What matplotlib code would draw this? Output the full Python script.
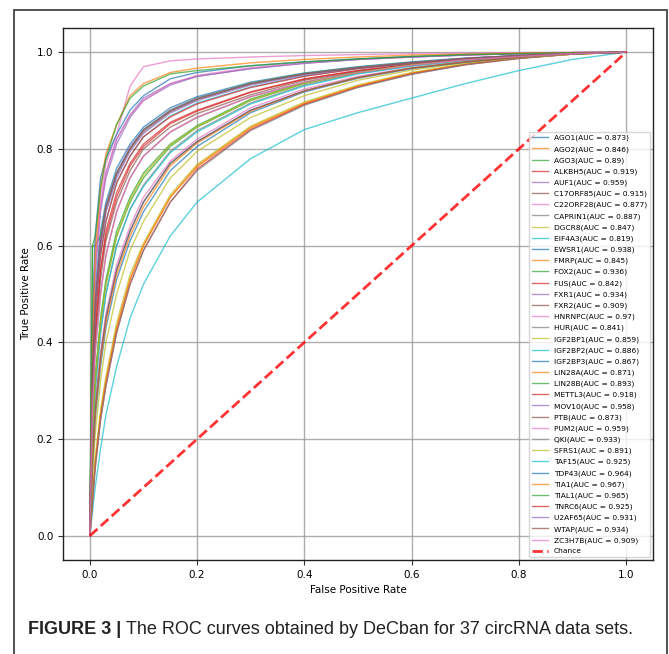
import numpy as np
import matplotlib
matplotlib.use('Agg')
import matplotlib.pyplot as plt
from matplotlib.patches import Rectangle

# false positive rate grid used for reading the curves off the figure
fpr = [0, 0.005, 0.01, 0.02, 0.03, 0.05, 0.075, 0.1, 0.15, 0.2, 0.3, 0.4, 0.5, 0.6, 0.7, 0.8, 0.9, 1.0]

names = ['AGO1', 'AGO2', 'AGO3', 'ALKBH5', 'AUF1', 'C17ORF85', 'C22ORF28', 'CAPRIN1', 'DGCR8',
         'EIF4A3', 'EWSR1', 'FMRP', 'FOX2', 'FUS', 'FXR1', 'FXR2', 'HNRNPC', 'HUR', 'IGF2BP1',
         'IGF2BP2', 'IGF2BP3', 'LIN28A', 'LIN28B', 'METTL3', 'MOV10', 'PTB', 'PUM2', 'QKI',
         'SFRS1', 'TAF15', 'TDP43', 'TIA1', 'TIAL1', 'TNRC6', 'U2AF65', 'WTAP', 'ZC3H7B']
aucs = [0.873, 0.846, 0.89, 0.919, 0.959, 0.915, 0.877, 0.887, 0.847,
        0.819, 0.938, 0.845, 0.936, 0.842, 0.934, 0.909, 0.97, 0.841, 0.859,
        0.886, 0.867, 0.871, 0.893, 0.918, 0.958, 0.873, 0.959, 0.933,
        0.891, 0.925, 0.964, 0.967, 0.965, 0.925, 0.931, 0.934, 0.909]

# true positive rate read at each fpr point
tpr = {
    'AGO1':     [0, 0.16, 0.26, 0.37, 0.45, 0.55, 0.63, 0.69, 0.77, 0.815, 0.88, 0.92, 0.948, 0.967, 0.98, 0.99, 0.997, 1],
    'AGO2':     [0, 0.08, 0.15, 0.25, 0.32, 0.43, 0.53, 0.6, 0.7, 0.765, 0.845, 0.895, 0.93, 0.957, 0.975, 0.988, 0.996, 1],
    'AGO3':     [0, 0.22, 0.32, 0.44, 0.52, 0.62, 0.69, 0.74, 0.805, 0.845, 0.9, 0.935, 0.958, 0.974, 0.985, 0.992, 0.997, 1],
    'ALKBH5':   [0, 0.3, 0.42, 0.55, 0.63, 0.71, 0.77, 0.81, 0.855, 0.88, 0.918, 0.945, 0.962, 0.975, 0.985, 0.992, 0.997, 1],
    'AUF1':     [0, 0.42, 0.56, 0.68, 0.75, 0.82, 0.87, 0.905, 0.935, 0.95, 0.966, 0.977, 0.985, 0.99, 0.994, 0.997, 0.999, 1],
    'C17ORF85': [0, 0.28, 0.4, 0.53, 0.61, 0.69, 0.755, 0.8, 0.845, 0.873, 0.912, 0.942, 0.96, 0.974, 0.984, 0.991, 0.997, 1],
    'C22ORF28': [0, 0.17, 0.27, 0.38, 0.46, 0.56, 0.64, 0.7, 0.775, 0.82, 0.885, 0.924, 0.95, 0.968, 0.98, 0.99, 0.997, 1],
    'CAPRIN1':  [0, 0.2, 0.3, 0.42, 0.5, 0.6, 0.675, 0.725, 0.795, 0.838, 0.895, 0.932, 0.956, 0.972, 0.984, 0.992, 0.997, 1],
    'DGCR8':    [0, 0.09, 0.16, 0.26, 0.33, 0.44, 0.54, 0.605, 0.705, 0.768, 0.847, 0.897, 0.932, 0.958, 0.976, 0.988, 0.996, 1],
    'EIF4A3':   [0, 0.05, 0.1, 0.18, 0.25, 0.35, 0.45, 0.52, 0.62, 0.69, 0.78, 0.84, 0.875, 0.905, 0.935, 0.962, 0.985, 1],
    'EWSR1':    [0, 0.36, 0.51, 0.63, 0.69, 0.76, 0.81, 0.845, 0.885, 0.908, 0.938, 0.957, 0.97, 0.98, 0.988, 0.993, 0.997, 1],
    'FMRP':     [0, 0.08, 0.15, 0.25, 0.32, 0.43, 0.53, 0.6, 0.7, 0.763, 0.843, 0.893, 0.93, 0.956, 0.975, 0.988, 0.996, 1],
    'FOX2':     [0, 0.6, 0.6, 0.62, 0.68, 0.75, 0.8, 0.84, 0.88, 0.905, 0.936, 0.956, 0.969, 0.979, 0.987, 0.993, 0.997, 1],
    'FUS':      [0, 0.07, 0.14, 0.24, 0.31, 0.42, 0.52, 0.59, 0.69, 0.758, 0.84, 0.892, 0.928, 0.955, 0.974, 0.987, 0.996, 1],
    'FXR1':     [0, 0.34, 0.49, 0.61, 0.68, 0.75, 0.805, 0.84, 0.88, 0.905, 0.935, 0.955, 0.968, 0.978, 0.987, 0.993, 0.997, 1],
    'FXR2':     [0, 0.27, 0.38, 0.5, 0.58, 0.67, 0.74, 0.785, 0.835, 0.865, 0.908, 0.938, 0.958, 0.973, 0.984, 0.991, 0.997, 1],
    'HNRNPC':   [0, 0.45, 0.6, 0.7, 0.77, 0.83, 0.93, 0.97, 0.982, 0.986, 0.99, 0.993, 0.995, 0.997, 0.998, 0.999, 1, 1],
    'HUR':      [0, 0.07, 0.14, 0.24, 0.31, 0.42, 0.52, 0.59, 0.69, 0.755, 0.838, 0.89, 0.927, 0.954, 0.974, 0.987, 0.996, 1],
    'IGF2BP1':  [0, 0.12, 0.21, 0.32, 0.4, 0.5, 0.59, 0.65, 0.74, 0.795, 0.865, 0.91, 0.942, 0.963, 0.978, 0.989, 0.996, 1],
    'IGF2BP2':  [0, 0.2, 0.3, 0.42, 0.5, 0.6, 0.675, 0.722, 0.792, 0.835, 0.893, 0.93, 0.955, 0.971, 0.983, 0.991, 0.997, 1],
    'IGF2BP3':  [0, 0.14, 0.24, 0.35, 0.43, 0.53, 0.61, 0.67, 0.755, 0.805, 0.875, 0.918, 0.946, 0.966, 0.979, 0.99, 0.997, 1],
    'LIN28A':   [0, 0.15, 0.25, 0.36, 0.44, 0.54, 0.62, 0.68, 0.765, 0.812, 0.878, 0.92, 0.947, 0.967, 0.98, 0.99, 0.997, 1],
    'LIN28B':   [0, 0.23, 0.33, 0.45, 0.53, 0.63, 0.7, 0.75, 0.81, 0.848, 0.903, 0.937, 0.959, 0.974, 0.985, 0.992, 0.997, 1],
    'METTL3':   [0, 0.3, 0.42, 0.55, 0.62, 0.7, 0.765, 0.805, 0.852, 0.878, 0.917, 0.944, 0.962, 0.975, 0.985, 0.992, 0.997, 1],
    'MOV10':    [0, 0.4, 0.54, 0.67, 0.74, 0.81, 0.865, 0.9, 0.932, 0.95, 0.966, 0.977, 0.985, 0.99, 0.994, 0.997, 0.999, 1],
    'PTB':      [0, 0.16, 0.26, 0.37, 0.45, 0.55, 0.63, 0.69, 0.77, 0.815, 0.88, 0.92, 0.948, 0.967, 0.98, 0.99, 0.997, 1],
    'PUM2':     [0, 0.4, 0.55, 0.68, 0.75, 0.82, 0.87, 0.9, 0.935, 0.952, 0.968, 0.978, 0.985, 0.99, 0.994, 0.997, 0.999, 1],
    'QKI':      [0, 0.33, 0.48, 0.6, 0.67, 0.745, 0.8, 0.835, 0.877, 0.902, 0.934, 0.955, 0.968, 0.978, 0.987, 0.993, 0.997, 1],
    'SFRS1':    [0, 0.22, 0.32, 0.44, 0.52, 0.62, 0.695, 0.745, 0.808, 0.846, 0.901, 0.936, 0.958, 0.974, 0.985, 0.992, 0.997, 1],
    'TAF15':    [0, 0.32, 0.46, 0.58, 0.65, 0.73, 0.785, 0.825, 0.868, 0.895, 0.928, 0.951, 0.966, 0.977, 0.986, 0.992, 0.997, 1],
    'TDP43':    [0, 0.45, 0.62, 0.74, 0.78, 0.83, 0.88, 0.91, 0.945, 0.958, 0.972, 0.98, 0.986, 0.991, 0.995, 0.997, 0.999, 1],
    'TIA1':     [0, 0.4, 0.58, 0.72, 0.79, 0.85, 0.91, 0.935, 0.958, 0.967, 0.978, 0.985, 0.99, 0.994, 0.996, 0.998, 0.999, 1],
    'TIAL1':    [0, 0.6, 0.62, 0.72, 0.78, 0.85, 0.905, 0.93, 0.955, 0.962, 0.972, 0.98, 0.986, 0.991, 0.995, 0.997, 0.999, 1],
    'TNRC6':    [0, 0.32, 0.45, 0.58, 0.65, 0.73, 0.785, 0.825, 0.866, 0.893, 0.927, 0.95, 0.966, 0.977, 0.986, 0.992, 0.997, 1],
    'U2AF65':   [0, 0.33, 0.47, 0.6, 0.67, 0.74, 0.795, 0.832, 0.874, 0.9, 0.932, 0.953, 0.967, 0.978, 0.987, 0.993, 0.997, 1],
    'WTAP':     [0, 0.34, 0.48, 0.61, 0.68, 0.75, 0.8, 0.838, 0.878, 0.903, 0.935, 0.955, 0.968, 0.978, 0.987, 0.993, 0.997, 1],
    'ZC3H7B':   [0, 0.27, 0.38, 0.5, 0.58, 0.67, 0.74, 0.785, 0.835, 0.866, 0.908, 0.938, 0.958, 0.973, 0.984, 0.991, 0.997, 1],
}

W, H = 669, 654
fig = plt.figure(figsize=(W / 100, H / 100), dpi=100)

# outer frame of the published figure
fig.patches.append(Rectangle((14 / W, -0.05), (667 - 14) / W, 1.05 - 10 / H,
                             transform=fig.transFigure, fill=False,
                             edgecolor='#444444', linewidth=1.3))

ax = fig.add_axes([63 / W, 94 / H, 590 / W, 532 / H])

for name, auc in zip(names, aucs):
    ax.plot(fpr, tpr[name], lw=1, alpha=0.7, label='%s(AUC = %s)' % (name, auc))
ax.plot([0, 1], [0, 1], linestyle='--', lw=2, color='r', alpha=0.8, label='Chance')

ax.set_xlim(-0.05, 1.05)
ax.set_ylim(-0.05, 1.05)
ax.set_xticks(np.arange(0, 1.01, 0.2))
ax.set_yticks(np.arange(0, 1.01, 0.2))
ax.tick_params(labelsize=7.5, length=3.5, width=0.8, color='#333333')
ax.grid(True, color='#999999', lw=1, alpha=0.8)
ax.set_xlabel('False Positive Rate', fontsize=7.5)
ax.set_ylabel('True Positive Rate', fontsize=7.5)
for s in ax.spines.values():
    s.set_color('#222222')
    s.set_linewidth(1)

ax.legend(loc='lower right', fontsize=5.4, labelspacing=0.59, handlelength=2.2,
          borderaxespad=0.35, framealpha=0.8)

# caption: bold label followed by regular text
t1 = fig.text(28 / W, 1 - 634 / H, 'FIGURE 3 |', fontsize=13.0, fontweight='bold',
              family='Liberation Sans', color='#222222', va='baseline')
fig.canvas.draw()
bb = t1.get_window_extent()
fig.text((bb.x1 + 5) / W, 1 - 634 / H,
         'The ROC curves obtained by DeCban for 37 circRNA data sets.',
         fontsize=13.0, family='Liberation Sans', color='#222222', va='baseline')

fig.savefig('out.png', dpi=100)
